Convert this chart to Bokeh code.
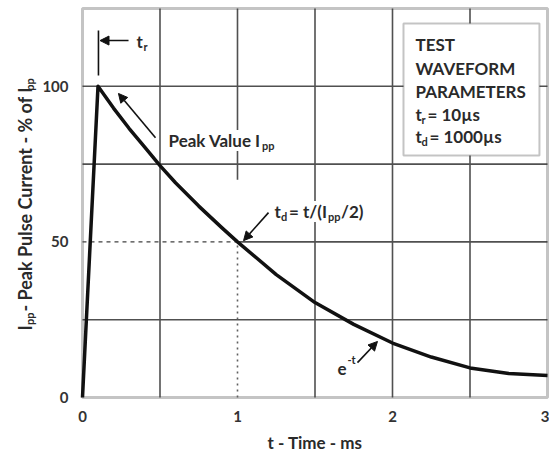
import math
from bokeh.plotting import figure
from bokeh.models import Label, Arrow, NormalHead, Range1d, FixedTicker, BoxAnnotation
from bokeh.embed import file_html
from bokeh.resources import INLINE

# ---- data ----
time_ms = [0.0, 0.1, 0.2, 0.3, 0.4, 0.5, 0.6, 0.75, 0.9, 1.0, 1.25, 1.5, 1.75, 2.0, 2.25, 2.5, 2.75, 3.0]
current_pct = [0, 100, 93, 86.5, 80.5, 74.5, 69, 61.5, 54.5, 50, 39.5, 30.5, 23.5, 17.5, 13, 9.5, 7.7, 7.1]
x_ticks = [0, 1, 2, 3]
y_ticks = [0, 50, 100]
half_time = 1.0
half_value = 50
X_MAX = 3
Y_MAX = 125

FONT = "Lato"
TXT = "#2a2a2a"
GRID = "#505050"

W, H = 549, 455
p = figure(width=W, height=H,
           x_range=Range1d(-0.529, 3.0129), y_range=Range1d(-18.64, 127.57),
           output_backend="svg", toolbar_location=None,
           min_border_left=0, min_border_right=0, min_border_top=0, min_border_bottom=0)
p.background_fill_color = "white"
p.border_fill_color = "white"
p.outline_line_color = None
p.grid.visible = False

# axes sit on the plot box edges
p.xaxis.fixed_location = 0
p.yaxis.fixed_location = 0
p.xaxis.ticker = FixedTicker(ticks=x_ticks)
p.yaxis.ticker = FixedTicker(ticks=y_ticks)
for ax in (p.xaxis[0], p.yaxis[0]):
    ax.axis_line_color = None
    ax.major_tick_line_color = None
    ax.minor_tick_line_color = None
    ax.major_tick_out = 0
    ax.major_tick_in = 0
    ax.major_label_text_font = FONT
    ax.major_label_text_font_size = "15px"
    ax.major_label_text_font_style = "bold"
    ax.major_label_text_color = "#333333"
p.xaxis.major_label_standoff = 14
p.yaxis.major_label_standoff = 14

# grid lines
vx = [0.5, 1.5, 2.0, 2.5]
hy = [25, 75, 100]
p.segment(x0=vx, y0=[0] * len(vx), x1=vx, y1=[Y_MAX] * len(vx),
          line_color=GRID, line_width=1.6, level="underlay")
p.segment(x0=[0] * len(hy), y0=hy, x1=[X_MAX] * len(hy), y1=hy,
          line_color=GRID, line_width=1.6, level="underlay")
p.segment(x0=[half_time, half_time], y0=[70, half_value], x1=[half_time, X_MAX], y1=[Y_MAX, half_value],
          line_color=GRID, line_width=1.6, level="underlay")
# dotted guides at the half-value point
p.line([0, half_time], [half_value, half_value], line_color="#404040", line_width=1.3, line_dash="4 4")
p.line([half_time, half_time], [0, half_value], line_color="#606060", line_width=1.6, line_dash="2 4")

# plot box
p.add_layout(BoxAnnotation(left=0, right=X_MAX, bottom=0, top=Y_MAX, fill_color=None,
                           line_color="#3a3a3a", line_width=3, level="underlay"))

# waveform
p.line(time_ms, current_pct, line_color="#111111", line_width=3.5, line_join="round")

subs = []

def lab(x, y, text, size="17px", xo=0, angle=0, bg=None, align="left", baseline="alphabetic", later=False):
    l = Label(x=x, y=y, text=text, x_offset=xo, angle=angle,
              text_font=FONT, text_font_size=size, text_font_style="bold",
              text_color=TXT, text_align=align, text_baseline=baseline)
    if bg:
        l.background_fill_color = bg
    if later:
        subs.append(l)
    else:
        p.add_layout(l)

def arrow(x0, y0, x1, y1):
    p.add_layout(Arrow(end=NormalHead(size=9, fill_color="#111111", line_color="#111111"),
                       x_start=x0, y_start=y0, x_end=x1, y_end=y1,
                       line_color="#111111", line_width=1.6))

# legend box
p.add_layout(BoxAnnotation(left=2.071, right=2.948, bottom=77.8, top=120.2,
                           fill_color="white", fill_alpha=1,
                           line_color="#3a3a3a", line_width=2))
lx = 2.071
lab(lx, 113.4, "TEST", xo=12)
lab(lx, 105.7, "WAVEFORM", xo=12)
lab(lx, 98.3, "PARAMETERS", xo=12)
lab(lx, 90.9, "t", xo=12)
lab(lx, 89.4, "r", size="11px", xo=18)
lab(lx, 90.9, " = 10µs", xo=24)
lab(lx, 83.9, "t", xo=12)
lab(lx, 82.4, "d", size="11px", xo=18)
lab(lx, 83.9, " = 1000µs", xo=26)

# t_r marker
p.line([0.103, 0.103], [103.5, 117.9], line_color="#111111", line_width=1.6)
arrow(0.297, 114.7, 0.113, 114.7)
lab(0.348, 114.4, "t")
lab(0.348, 112.8, "r", size="11px", xo=7)

# Peak value
arrow(0.471, 83.5, 0.232, 97.7)
lab(0.555, 82.6, "Peak Value I", bg="white")
lab(0.555, 81.0, "pp", size="11px", xo=93.5, later=True)

# t_d
arrow(1.2, 59.4, 1.039, 50.4)
tdx = 1.239
lab(tdx, 59.8, "t", bg="white")
lab(tdx, 59.8, " = t/(I", xo=14.5, bg="white")
lab(tdx, 59.8, "/2)", xo=66.5, bg="white")
lab(tdx, 58.2, "d", size="11px", xo=6.5, later=True)
lab(tdx, 58.2, "pp", size="11px", xo=53.5, later=True)

# e^-t
arrow(1.774, 11.2, 1.903, 18.0)
lab(1.645, 9.3, "e")
lab(1.645, 12.2, "-t", size="11px", xo=10)

# axis titles
lab(1.5, -14.5, "t - Time - ms", align="center", baseline="middle")
ylx = -0.368
lab(ylx, 21.5, "I", size="18px", angle=math.pi / 2)
lab(ylx + 0.025, 23.3, "pp", size="11px", angle=math.pi / 2)
lab(ylx, 27.6, " - Peak Pulse Current - % of I", size="18px", angle=math.pi / 2)
lab(ylx + 0.025, 98.6, "pp", size="11px", angle=math.pi / 2)

for l in subs:
    p.add_layout(l)

open("out.html", "w").write(file_html(p, INLINE))
